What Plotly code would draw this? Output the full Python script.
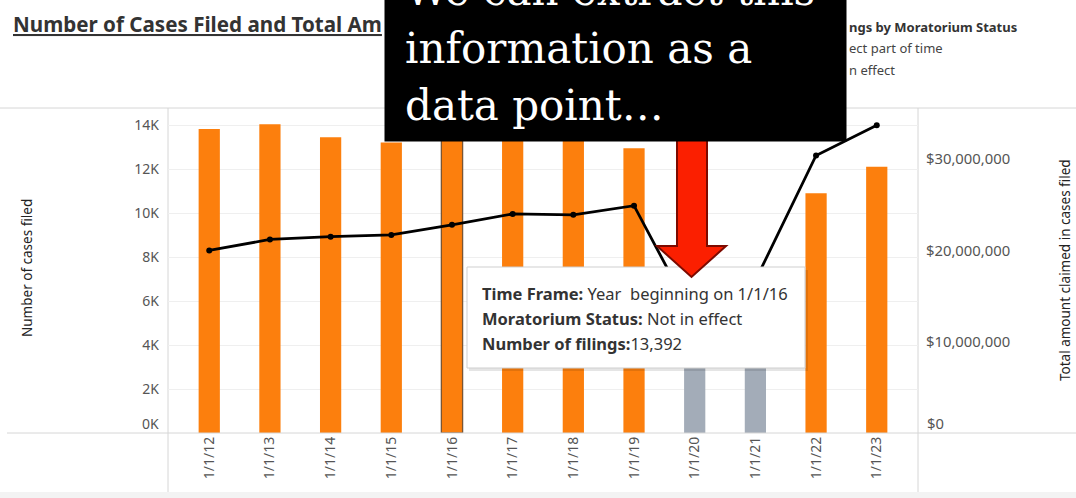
import plotly.graph_objects as go

# ---------------- data ----------------
time_frames = ["1/1/12", "1/1/13", "1/1/14", "1/1/15", "1/1/16", "1/1/17",
               "1/1/18", "1/1/19", "1/1/20", "1/1/21", "1/1/22", "1/1/23"]
filings_not_in_effect = [13820, 14030, 13440, 13200, 13392, 13650,
                         13500, 12940, None, None, 10900, 12100]
filings_part_of_time = [None, None, None, None, None, None,
                        None, None, 6800, 5600, None, None]
amount_claimed = [20.0e6, 21.2e6, 21.5e6, 21.7e6, 22.8e6, 24.0e6,
                  23.9e6, 24.9e6, 12.4e6, 16.7e6, 30.4e6, 33.7e6]
selected_frame = "1/1/16"

left_ticks = [0, 2000, 4000, 6000, 8000, 10000, 12000, 14000]
left_ticktext = ["", "2K", "4K", "6K", "8K", "10K", "12K", "14K"]
left_zero_label = "0K"
right_ticks = [0, 10e6, 20e6, 30e6]
right_ticktext = ["", "$10,000,000", "$20,000,000", "$30,000,000"]
right_zero_label = "$0"

# texts as visible in the reference (partly hidden behind the callout box)
title_text = "Number of Cases Filed and Total Am"
legend_title = "ngs by Moratorium Status"
legend_items = ["ect part of time", "n effect"]

ORANGE = "#fc7f0d"
GRAY = "#a3acb8"
FONT = "Noto Sans"
TICK_COLOR = "#555555"

W, H = 1076, 498
L, R, T, B = 168, 918, 108, 433


def px(x):
    return (x - L) / (R - L)


def py(y):
    return (B - y) / (B - T)


fig = go.Figure()

line_colors = ["#7a5534" if t == selected_frame else ORANGE for t in time_frames]
line_widths = [1.3 if t == selected_frame else 0 for t in time_frames]

fig.add_trace(go.Bar(
    x=time_frames, y=filings_not_in_effect, name="Not in effect",
    marker=dict(color=ORANGE, line=dict(color=line_colors, width=line_widths)),
    width=0.35, hoverinfo="skip"))
fig.add_trace(go.Bar(
    x=time_frames, y=filings_part_of_time, name="In effect part of time",
    marker=dict(color=GRAY, line=dict(width=0)),
    width=0.35, hoverinfo="skip"))
fig.add_trace(go.Scatter(
    x=time_frames, y=amount_claimed, yaxis="y2", mode="lines+markers",
    line=dict(color="black", width=2.8), marker=dict(color="black", size=6),
    hoverinfo="skip"))

fig.update_layout(
    width=W, height=H,
    margin=dict(l=L, r=W - R, t=T, b=H - B, pad=0),
    paper_bgcolor="white", plot_bgcolor="white",
    showlegend=False, barmode="overlay",
    font=dict(family=FONT, color=TICK_COLOR, size=14),
    xaxis=dict(type="category", tickangle=-90, showgrid=False, showline=False,
               zeroline=False, ticks="", tickfont=dict(size=14, color=TICK_COLOR)),
    yaxis=dict(range=[0, 14773], tickvals=left_ticks, ticktext=left_ticktext,
               showgrid=True, gridcolor="#efefef", gridwidth=1, zeroline=False,
               showline=False, ticks="", ticklabelstandoff=8,
               tickfont=dict(size=14, color=TICK_COLOR)),
    yaxis2=dict(range=[0, 35.6e6], tickvals=right_ticks, ticktext=right_ticktext,
                overlaying="y", side="right", showgrid=False, zeroline=False,
                showline=False, ticks="", ticklabelstandoff=7,
                tickfont=dict(size=14.8, color=TICK_COLOR)),
)

shapes = []
border = dict(color="#d6d6d6", width=1)
# frame lines
shapes.append(dict(type="line", xref="paper", yref="paper", x0=px(0), x1=px(W),
                   y0=py(T), y1=py(T), line=border, layer="below"))
shapes.append(dict(type="line", xref="paper", yref="paper", x0=px(7), x1=px(W),
                   y0=py(B), y1=py(B), line=border, layer="above"))
for xv in (L, R):
    shapes.append(dict(type="line", xref="paper", yref="paper", x0=px(xv), x1=px(xv),
                       y0=py(T), y1=py(493), line=border, layer="below"))
shapes.append(dict(type="rect", xref="paper", yref="paper", x0=px(0), x1=px(W),
                   y0=py(492), y1=py(H + 2), fillcolor="#f3f3f3", line=dict(width=0),
                   layer="below"))
# tooltip box (shadow + box)
shapes.append(dict(type="rect", xref="paper", yref="paper", x0=px(469), x1=px(808),
                   y0=py(270), y1=py(371), fillcolor="rgba(0,0,0,0.10)",
                   line=dict(width=0), layer="above"))
shapes.append(dict(type="rect", xref="paper", yref="paper", x0=px(467), x1=px(805),
                   y0=py(267), y1=py(368), fillcolor="white",
                   line=dict(color="#cfcfcf", width=1), layer="above"))
# red arrow
pts = [(677, 140), (707, 140), (707, 246), (726, 246), (691.5, 277),
       (657, 246), (677, 246)]
path = "M " + " L ".join(f"{px(a):.5f},{py(b):.5f}" for a, b in pts) + " Z"
shapes.append(dict(type="path", xref="paper", yref="paper", path=path,
                   fillcolor="#fb1f00", line=dict(color="#7d0a00", width=2),
                   layer="above"))
fig.update_layout(shapes=shapes)

ann = []
# zero tick labels (drawn slightly raised, as in the reference)
ann.append(dict(xref="paper", yref="paper", x=px(161), y=py(423), xanchor="right",
                yanchor="middle", showarrow=False, text=left_zero_label,
                font=dict(family=FONT, size=14, color=TICK_COLOR)))
ann.append(dict(xref="paper", yref="paper", x=px(925), y=py(423), xanchor="left",
                yanchor="middle", showarrow=False, text=right_zero_label,
                font=dict(family=FONT, size=14.8, color=TICK_COLOR)))
# title
ann.append(dict(xref="paper", yref="paper", x=px(11), y=py(24), xanchor="left",
                yanchor="middle", showarrow=False,
                text=f"<b><u>{title_text}</u></b>",
                font=dict(family=FONT, size=20.6, color="#333333")))
# legend (visible part)
ann.append(dict(xref="paper", yref="paper", x=px(847), y=py(27), xanchor="left",
                yanchor="middle", showarrow=False,
                text=f"<b>{legend_title}</b>",
                font=dict(family=FONT, size=13, color="#333333")))
for txt, yc in zip(legend_items, (48, 70)):
    ann.append(dict(xref="paper", yref="paper", x=px(847), y=py(yc), xanchor="left",
                    yanchor="middle", showarrow=False, text=txt,
                    font=dict(family=FONT, size=13, color="#444444")))
# axis titles
ann.append(dict(xref="paper", yref="paper", x=px(27), y=py(268), textangle=-90,
                xanchor="center", yanchor="middle",
                showarrow=False, text="Number of cases filed",
                font=dict(family=FONT, size=13.5, color="#222222")))
ann.append(dict(xref="paper", yref="paper", x=px(1065), y=py(270), textangle=-90,
                xanchor="center", yanchor="middle",
                showarrow=False, text="Total amount claimed in cases filed",
                font=dict(family=FONT, size=13.5, color="#222222")))
# black callout box
ann.append(dict(xref="paper", yref="paper", x=px(384), y=py(142), xanchor="left",
                yanchor="bottom", showarrow=False, text=" ", width=461, height=170,
                bgcolor="black", borderpad=0, font=dict(size=10)))
for txt, yc in (("We can extract this", -10), ("information as a", 48),
                ("data point…", 105)):
    ann.append(dict(xref="paper", yref="paper", x=px(403), y=py(yc), xanchor="left",
                    yanchor="middle", showarrow=False, text=txt,
                    font=dict(family="DejaVu Serif", size=42, color="white")))
# tooltip text
tip_lines = [("Time Frame:", " Year\u00a0\u00a0beginning on 1/1/16", 293),
             ("Moratorium Status:", " Not in effect", 318),
             ("Number of filings:", "13,392", 343)]
for lab, val, yc in tip_lines:
    ann.append(dict(xref="paper", yref="paper", x=px(480), y=py(yc), xanchor="left",
                    yanchor="middle", showarrow=False,
                    text=f"<b>{lab}</b>{val}",
                    font=dict(family=FONT, size=16.5, color="#333333")))
fig.update_layout(annotations=ann)

fig.write_html(
    "out.html",
    config={"displayModeBar": False},
    post_script="document.body.style.margin='0';document.body.style.padding='0';",
)
